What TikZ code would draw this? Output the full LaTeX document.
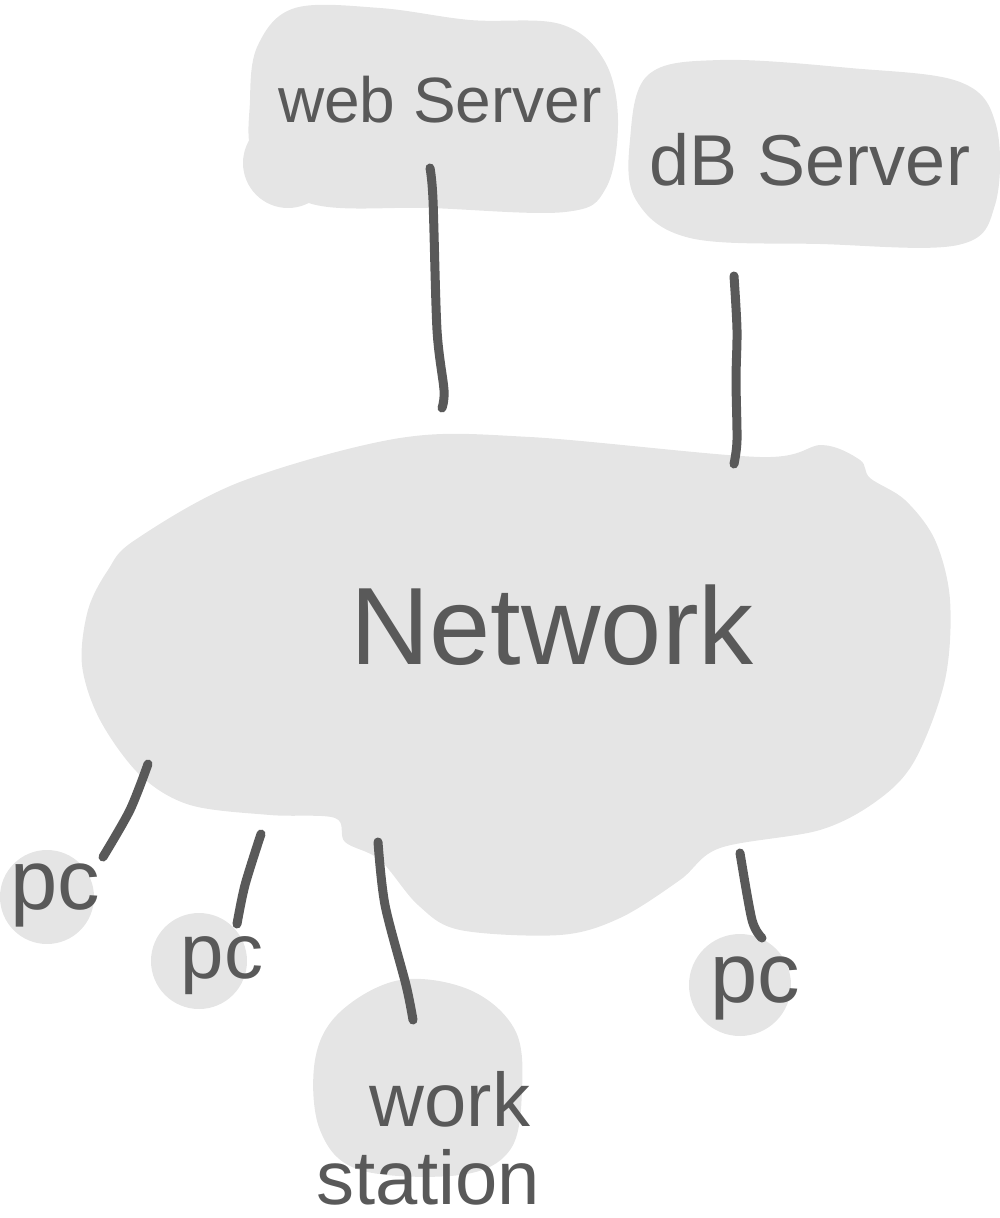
\documentclass[tikz,border=0pt]{standalone}
\usepackage{fontspec}
\setmainfont{Liberation Sans}
\begin{document}
\begin{tikzpicture}[x=1pt,y=-1pt,
  blob/.style={fill=blobgray,draw=none},
  wire/.style={draw=inkgray,line width=9pt,line cap=round,line join=round},
  hand/.style={text=inkgray,inner sep=0pt}]
\definecolor{blobgray}{HTML}{E5E5E5}
\definecolor{inkgray}{HTML}{595959}
\useasboundingbox (0,0) rectangle (1000,1218);
% web server blob
\fill[blob] plot[smooth cycle,tension=0.6] coordinates {(258,45) (295,8) (380,8) (470,20) (560,24) (604,60) (618,120) (606,188) (565,212) (430,208) (312,204) (255,160) (250,100)};
\fill[blob] (288,163) circle (45);
% db server blob
\fill[blob] plot[smooth cycle,tension=0.6] coordinates {(648,75) (720,60) (850,68) (960,82) (996,125) (995,205) (958,245) (820,244) (690,238) (636,200) (630,140)};
% network cloud
\fill[blob] plot[smooth cycle,tension=0.55] coordinates {(135,540) (240,482) (400,438) (530,437) (760,457) (822,445) (860,460) (870,478) (905,500) (935,540) (950,600) (945,680) (915,760) (878,800) (820,830) (720,848) (680,880) (620,918) (560,935) (460,930) (418,905) (380,860) (345,842) (335,818) (270,815) (190,805) (140,775) (100,720) (82,665) (88,610) (108,570)};
% pc blobs
\fill[blob] (47,897) circle (47);
\fill[blob] (199,961) circle (48);
\fill[blob] (740,985) circle (51);
% workstation blob
\fill[blob] plot[smooth cycle,tension=0.6] coordinates {(340,1012) (400,980) (470,990) (515,1030) (522,1090) (510,1150) (460,1175) (360,1170) (320,1130) (315,1060)};

% labels
\node[hand,font=\fontsize{64}{64}\selectfont] (web) at (440,100) {web Server};
\node[hand,font=\fontsize{72}{72}\selectfont] (db) at (810,160) {dB Server};
\node[hand,font=\fontsize{110}{110}\selectfont] (net) at (552,625) {Network};
\node[hand,font=\fontsize{85}{85}\selectfont] (pcA) at (55,895) {pc};
\node[hand,font=\fontsize{78}{78}\selectfont] (pcB) at (222,966) {pc};
\node[hand,font=\fontsize{85}{85}\selectfont] (pcC) at (755,988) {pc};
\node[hand,font=\fontsize{76}{76}\selectfont,anchor=base] (wsA) at (450,1126) {work};
\node[hand,font=\fontsize{76}{76}\selectfont,anchor=base] (wsB) at (428,1204) {station};

% connector endpoints
\coordinate (w1) at (430,168); \coordinate (w2) at (433,200); \coordinate (w3) at (437,330); \coordinate (w4) at (444,390); \coordinate (w5) at (442,408);
\coordinate (d1) at (734,276); \coordinate (d2) at (737,330); \coordinate (d3) at (736,380); \coordinate (d4) at (737,440); \coordinate (d5) at (734,464);
\coordinate (a1) at (148,764); \coordinate (a2) at (130,810); \coordinate (a3) at (103,857);
\coordinate (b1) at (261,834); \coordinate (b2) at (245,885); \coordinate (b3) at (237,924);
\coordinate (s1) at (378,842); \coordinate (s2) at (385,905); \coordinate (s3) at (406,985); \coordinate (s4) at (413,1020);
\coordinate (c1) at (740,853); \coordinate (c2) at (752,920); \coordinate (c3) at (762,938);

\draw[wire] plot[smooth] coordinates {(w1) (w2) (w3) (w4) (w5)};
\draw[wire] plot[smooth] coordinates {(d1) (d2) (d3) (d4) (d5)};
\draw[wire] plot[smooth] coordinates {(a1) (a2) (a3)};
\draw[wire] plot[smooth] coordinates {(b1) (b2) (b3)};
\draw[wire] plot[smooth] coordinates {(s1) (s2) (s3) (s4)};
\draw[wire] plot[smooth] coordinates {(c1) (c2) (c3)};
\end{tikzpicture}
\end{document}
